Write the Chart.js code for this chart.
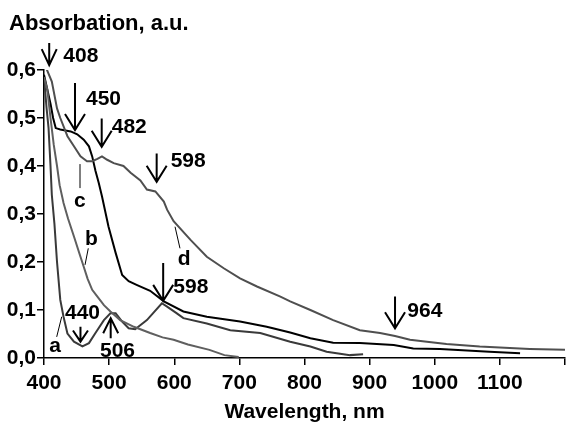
<!DOCTYPE html>
<html>
<head>
<meta charset="utf-8">
<script src="https://cdn.jsdelivr.net/npm/chart.js@4.4.1/dist/chart.umd.min.js"></script>
<style>
html,body{margin:0;padding:0;background:#fff;}
#wrap{width:566px;height:425px;position:relative;}
</style>
</head>
<body>
<div id="wrap"><canvas id="c" width="566" height="425"></canvas></div>
<script>
// ---- data (wavelength nm / absorbance a.u.) ----
const waveA = [400,404,407,410,412,416,420,425,430,436,446,459,469,479,492,502,510,520,530,540,558,581,589,604,614,650,686,732,778,809,834,870,890];
const absA  = [0.585,0.52,0.479,0.40,0.34,0.28,0.20,0.121,0.086,0.051,0.034,0.024,0.031,0.052,0.079,0.093,0.093,0.076,0.062,0.06,0.079,0.114,0.107,0.093,0.083,0.072,0.058,0.052,0.034,0.024,0.013,0.006,0.008];

const waveB = [400,405,410,415,420,424,430,437,446,455,461,467,474,482,492,502,517,538,563,582,599,621,654,677,699];
const absB  = [0.585,0.56,0.50,0.444,0.40,0.36,0.323,0.29,0.253,0.215,0.19,0.165,0.142,0.128,0.11,0.097,0.079,0.065,0.052,0.043,0.038,0.028,0.017,0.006,0.002];

const waveC = [400,405,410,414,418,425,433,441,451,461,469,474,479,484,489,499,510,520,530,543,563,584,614,650,701,742,778,809,844,885,937,967,1008,1084,1131];
const absC  = [0.59,0.56,0.53,0.50,0.479,0.476,0.474,0.472,0.466,0.455,0.441,0.42,0.39,0.365,0.337,0.274,0.219,0.173,0.16,0.152,0.14,0.118,0.097,0.086,0.076,0.065,0.053,0.041,0.032,0.031,0.027,0.020,0.019,0.013,0.010];

const waveD = [404,412,420,425,436,446,456,466,474,482,489,497,507,522,533,548,558,571,584,589,599,625,650,676,701,727,763,778,809,844,885,916,939,962,988,1018,1069,1146,1200];
const absD  = [0.602,0.576,0.52,0.50,0.462,0.441,0.42,0.41,0.41,0.415,0.42,0.413,0.406,0.40,0.386,0.37,0.351,0.347,0.326,0.309,0.285,0.246,0.211,0.187,0.166,0.149,0.128,0.118,0.10,0.079,0.058,0.052,0.046,0.038,0.034,0.029,0.024,0.019,0.017];

const xTicks = [400,500,600,700,800,900,1000,1100,1200];
const yTicks = [0,0.1,0.2,0.3,0.4,0.5,0.6];

// peak markers: label, wavelength of arrow, tip value, tail value
const arrowLabels = ['408','450','482','598','598','964','440','506'];
const arrowX      = [408,447.6,488.6,573,583,939,456,502.4];
const arrowTip    = [0.610,0.475,0.440,0.367,0.119,0.062,0.034,0.083];
const arrowTail   = [0.656,0.573,0.499,0.426,0.198,0.128,0.065,0.041];
const arrowTextX  = [429.6,464.5,504,594.5,598.5,957.9,432.2,486];
const arrowTextY  = [0.617,0.527,0.469,0.398,0.135,0.085,0.081,0.002];

// curve letters with leader lines
const curveLetters = ['a','b','c','d'];
const letterX  = [408.1,463,446,605.3];
const letterY  = [0.0125,0.235,0.315,0.194];
const leaderX1 = [419.5,468,455.3,608.8];
const leaderY1 = [0.044,0.2285,0.404,0.2285];
const leaderX2 = [427.2,463,455.3,601.2];
const leaderY2 = [0.086,0.194,0.354,0.2735];

const FONT = '"Liberation Sans", Arial, sans-serif';

function pts(xs, ys){ return xs.map((x,i)=>({x:x, y:ys[i]})); }

const annot = {
  id:'annot',
  afterDraw(chart){
    const ctx = chart.ctx, xs = chart.scales.x, ys = chart.scales.y;
    const px = v => xs.getPixelForValue(v), py = v => ys.getPixelForValue(v);
    ctx.save();
    ctx.fillStyle = '#000';
    ctx.textBaseline = 'alphabetic';
    ctx.textAlign = 'left';
    ctx.font = 'bold 22px ' + FONT;
    ctx.fillText('Absorbation, a.u.', 9, 30);
    ctx.font = 'bold 21px ' + FONT;
    // arrows
    ctx.strokeStyle = '#000';
    ctx.lineWidth = 2;
    ctx.lineCap = 'butt';
    for (let i=0;i<arrowLabels.length;i++){
      const x = px(arrowX[i]), yt = py(arrowTip[i]), yb = py(arrowTail[i]);
      const dir = yt > yb ? 1 : -1; // 1 = pointing down
      const len = Math.abs(yt-yb);
      const hh = Math.min(16, len*0.75), hw = len < 25 ? 7.5 : 10;
      ctx.beginPath();
      ctx.moveTo(x, yb); ctx.lineTo(x, yt);
      ctx.moveTo(x-hw, yt - dir*hh); ctx.lineTo(x, yt); ctx.lineTo(x+hw, yt - dir*hh);
      ctx.stroke();
      ctx.fillText(arrowLabels[i], px(arrowTextX[i]), py(arrowTextY[i]));
    }
    // letters & leaders
    ctx.lineWidth = 1;
    for (let i=0;i<curveLetters.length;i++){
      ctx.beginPath();
      ctx.moveTo(px(leaderX1[i]), py(leaderY1[i]));
      ctx.lineTo(px(leaderX2[i]), py(leaderY2[i]));
      ctx.stroke();
      ctx.fillText(curveLetters[i], px(letterX[i]), py(letterY[i]));
    }
    ctx.restore();
  }
};

function ds(xs, ys, color){
  return {data: pts(xs, ys), borderColor: color, backgroundColor: color, borderWidth: 2,
          pointRadius: 0, showLine: true, tension: 0, fill: false};
}

new Chart(document.getElementById('c'), {
  type: 'scatter',
  data: { datasets: [
    ds(waveB, absB, '#5f5f5f'),
    ds(waveA, absA, '#3a3a3a'),
    ds(waveD, absD, '#4f4f4f'),
    ds(waveC, absC, '#000000')
  ]},
  options: {
    responsive: false, animation: false,
    layout: { padding: {left: 0, right: 1, top: 70, bottom: 0} },
    plugins: { legend: {display:false}, tooltip: {enabled:false}, title: {display:false} },
    scales: {
      x: {
        type: 'linear', min: 400, max: 1200,
        afterBuildTicks: s => { s.ticks = xTicks.map(v=>({value:v})); },
        afterFit: s => { s.height = 67; s.paddingRight = 0; s.paddingLeft = 0; },
        grid: { drawOnChartArea: false, drawTicks: true, tickLength: 7, color: '#000', lineWidth: 1.5 },
        border: { display: true, color: '#000', width: 1.5 },
        ticks: { color: '#000', font: {family: FONT, size: 21, weight: 'bold'}, padding: 6, maxRotation: 0, autoSkip: false,
                 callback: v => v === 1200 ? '' : String(v) },
        title: { display: true, text: 'Wavelength, nm', color: '#000', font: {family: FONT, size: 21, weight: 'bold'}, padding: {top: 4, bottom: 0} }
      },
      y: {
        type: 'linear', min: 0, max: 0.6,
        afterBuildTicks: s => { s.ticks = yTicks.map(v=>({value:v})); },
        afterFit: s => { s.width = 44; },
        grid: { drawOnChartArea: false, drawTicks: true, tickLength: 7, color: '#000', lineWidth: 1.5 },
        border: { display: true, color: '#000', width: 1.5 },
        ticks: { color: '#000', font: {family: FONT, size: 21, weight: 'bold'}, padding: 1,
                 callback: v => v.toFixed(1).replace('.', ',') }
      }
    }
  },
  plugins: [annot]
});
</script>
</body>
</html>
